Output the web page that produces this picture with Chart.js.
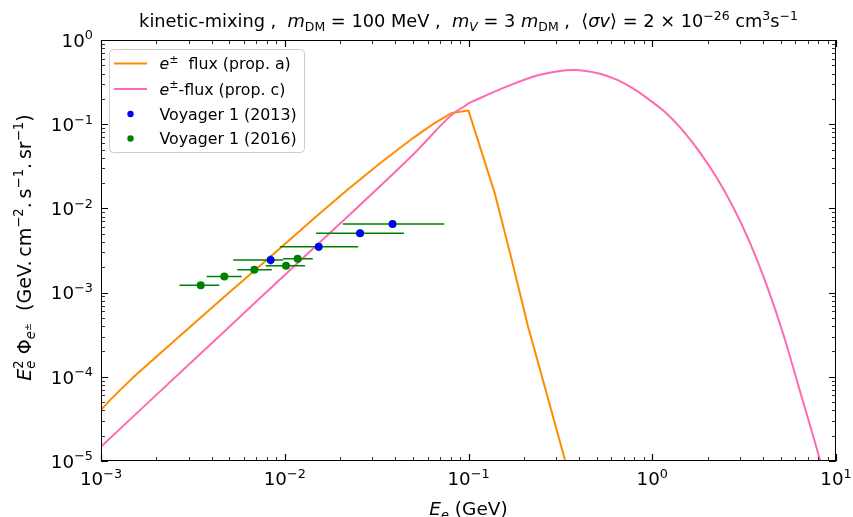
<!DOCTYPE html>
<html>
<head>
<meta charset="utf-8">
<script src="https://cdn.jsdelivr.net/npm/chart.js@4.4.0/dist/chart.umd.min.js"></script>
<style>
  body { margin: 0; background: #fff; }
</style>
</head>
<body>
<canvas id="myGraph" width="853" height="517"></canvas>
<script>
// e+- flux, propagation a (orange)
const energyA = [1.0e-3, 1.12e-3, 1.27e-3, 1.53e-3, 2.14e-3, 3.25e-3, 4.93e-3, 7.50e-3, 1.14e-2, 1.43e-2,
  2.17e-2, 3.30e-2, 5.01e-2, 6.44e-2, 8.11e-2, 0.1, 0.139, 0.172, 0.211, 0.266, 0.335, 0.355];
const fluxA = [4.04e-5, 5.29e-5, 6.95e-5, 1.03e-4, 1.97e-4, 4.40e-4, 9.82e-4, 2.17e-3, 4.83e-3, 7.46e-3,
  1.63e-2, 3.43e-2, 6.89e-2, 0.101, 0.136, 0.145, 1.51e-2, 2.44e-3, 3.94e-4, 6.37e-5, 1.03e-5, 6.3e-6];

// e+- flux, propagation c (pink)
const energyC = [1.0e-3, 2.0e-3, 5.0e-3, 1.0e-2, 2.0e-2, 5.0e-2, 8.3e-2, 0.097, 0.1, 0.104, 0.161, 0.245,
  0.372, 0.52, 0.65, 0.789, 0.973, 1.197, 1.476, 1.82, 2.244, 2.76, 3.40, 4.20, 5.17, 6.37, 8.18, 8.71];
const fluxC = [1.48e-5, 6.1e-5, 3.94e-4, 1.62e-3, 6.6e-3, 4.37e-2, 0.135, 0.168, 0.177, 0.184, 0.279, 0.386,
  0.441, 0.398, 0.333, 0.264, 0.192, 0.134, 8.27e-2, 4.60e-2, 2.31e-2, 1.03e-2, 3.92e-3, 1.22e-3, 3.18e-4,
  6.74e-5, 1.03e-5, 6.2e-6];

// Voyager 1 (2013), blue, with small flux errors
const voy13E = [8.38e-3, 1.53e-2, 2.57e-2, 3.86e-2];
const voy13F = [2.44e-3, 3.51e-3, 5.06e-3, 6.53e-3];
const voy13FLo = [2.15e-3, 3.15e-3, 4.60e-3, 5.95e-3];
const voy13FHi = [2.75e-3, 3.90e-3, 5.55e-3, 7.15e-3];

// Voyager 1 (2016), green, with energy bins
const voy16E = [3.49e-3, 4.69e-3, 6.83e-3, 8.38e-3, 1.016e-2, 1.175e-2, 1.53e-2, 2.57e-2, 3.86e-2];
const voy16F = [1.22e-3, 1.55e-3, 1.87e-3, 2.44e-3, 2.09e-3, 2.53e-3, 3.51e-3, 5.06e-3, 6.53e-3];
const voy16ELo = [2.67e-3, 3.76e-3, 5.52e-3, 5.24e-3, 7.87e-3, 9.8e-3, 9.4e-3, 1.48e-2, 2.07e-2];
const voy16EHi = [4.40e-3, 5.83e-3, 8.50e-3, 9.80e-3, 1.29e-2, 1.42e-2, 2.51e-2, 4.46e-2, 7.38e-2];

const xTicks = [1e-3, 1e-2, 1e-1, 1, 10];
const xTickExp = ['\u22123', '\u22122', '\u22121', '0', '1'];
const yTicks = [1e-5, 1e-4, 1e-3, 1e-2, 1e-1, 1];
const yTickExp = ['\u22125', '\u22124', '\u22123', '\u22122', '\u22121', '0'];

const FONT = '"DejaVu Sans", sans-serif';

function pts(xs, ys) {
  return xs.map((x, i) => ({ x: x, y: ys[i] }));
}

// text with italic / super / subscript pieces
function drawRich(ctx, parts, x, y, size, align) {
  const fontOf = p => (p.i ? 'oblique ' : '') + (size * (p.sz || (p.s ? 0.7 : 1))) + 'px ' + FONT;
  const items = [];
  let cx = 0, prevX = 0;
  for (const p of parts) {
    ctx.font = fontOf(p);
    const w = ctx.measureText(p.t).width;
    let dy = p.s === '^' ? -size * 0.4 : p.s === '_' ? size * 0.2 : 0;
    if (p.dy !== undefined) dy = size * p.dy;
    if (p.over) {
      items.push({ p: p, x: prevX, dy: dy });
      cx = Math.max(cx, prevX + w);
    } else {
      items.push({ p: p, x: cx, dy: dy });
      prevX = cx;
      cx += w;
    }
  }
  const x0 = align === 'center' ? x - cx / 2 : align === 'right' ? x - cx : x;
  ctx.textAlign = 'left';
  ctx.textBaseline = 'alphabetic';
  for (const it of items) {
    ctx.font = fontOf(it.p);
    ctx.fillText(it.p.t, x0 + it.x, y + it.dy);
  }
  return cx;
}

const errorBars = {
  id: 'errorBars',
  beforeDatasetDraw(chart, args) {
    const ds = chart.data.datasets[args.index];
    if (!ds.errLo) return;
    const ctx = chart.ctx, xs = chart.scales.x, ys = chart.scales.y;
    ctx.save();
    ctx.strokeStyle = ds.borderColor;
    ctx.lineWidth = 1.5;
    ctx.beginPath();
    ds.data.forEach((p, i) => {
      if (ds.errAxis === 'x') {
        const py = ys.getPixelForValue(p.y);
        ctx.moveTo(xs.getPixelForValue(ds.errLo[i]), py);
        ctx.lineTo(xs.getPixelForValue(ds.errHi[i]), py);
      } else {
        const px = xs.getPixelForValue(p.x);
        ctx.moveTo(px, ys.getPixelForValue(ds.errLo[i]));
        ctx.lineTo(px, ys.getPixelForValue(ds.errHi[i]));
      }
    });
    ctx.stroke();
    ctx.restore();
  }
};

const frame = {
  id: 'frame',
  afterDraw(chart) {
    const ctx = chart.ctx, a = chart.chartArea;
    const xs = chart.scales.x, ys = chart.scales.y;
    ctx.save();
    ctx.strokeStyle = '#000';
    ctx.lineWidth = 1;
    ctx.strokeRect(a.left + 0.5, a.top + 0.5, a.right - a.left - 1, a.bottom - a.top - 1);

    // inward ticks on all sides
    const tick = (len, lw, fn) => { ctx.lineWidth = lw; ctx.beginPath(); fn(len); ctx.stroke(); };
    const each = (lo, hi, cb) => {
      for (let d = lo; d < hi; d++) {
        cb(Math.pow(10, d), true);
        for (let m = 2; m <= 9; m++) cb(m * Math.pow(10, d), false);
      }
      cb(Math.pow(10, hi), true);
    };
    each(-3, 1, (v, major) => {
      const px = Math.round(xs.getPixelForValue(v)) + 0.5;
      tick(major ? 7 : 4, major ? 1.2 : 0.8, len => {
        ctx.moveTo(px, a.bottom); ctx.lineTo(px, a.bottom - len);
        ctx.moveTo(px, a.top); ctx.lineTo(px, a.top + len);
      });
    });
    each(-5, 0, (v, major) => {
      const py = Math.round(ys.getPixelForValue(v)) + 0.5;
      tick(major ? 7 : 4, major ? 1.2 : 0.8, len => {
        ctx.moveTo(a.left, py); ctx.lineTo(a.left + len, py);
        ctx.moveTo(a.right, py); ctx.lineTo(a.right - len, py);
      });
    });

    ctx.fillStyle = '#000';
    // tick labels
    xs.ticks.forEach((t, i) => {
      drawRich(ctx, [{ t: '10' }, { t: xTickExp[i], s: '^' }], xs.getPixelForValue(t.value), 485, 18.3, 'center');
    });
    ys.ticks.forEach((t, i) => {
      drawRich(ctx, [{ t: '10' }, { t: yTickExp[i], s: '^' }], 93, ys.getPixelForValue(t.value) + 6.7, 18.3, 'right');
    });

    // title
    drawRich(ctx, [
      { t: 'kinetic-mixing ,  ' }, { t: 'm', i: 1 }, { t: 'DM', s: '_' }, { t: ' = 100 MeV ,  ' },
      { t: 'm', i: 1 }, { t: 'V', i: 1, s: '_' }, { t: ' = 3 ' }, { t: 'm', i: 1 }, { t: 'DM', s: '_' },
      { t: ' ,  \u27e8' }, { t: '\u03c3v', i: 1 }, { t: '\u27e9 = 2 \u00d7 10' }, { t: '\u221226', s: '^' },
      { t: ' cm' }, { t: '3', s: '^' }, { t: 's' }, { t: '\u22121', s: '^' }
    ], (a.left + a.right) / 2, 27, 17.8, 'center');

    // axis titles
    drawRich(ctx, [{ t: 'E', i: 1 }, { t: 'e', i: 1, s: '_' }, { t: ' (GeV)' }], (a.left + a.right) / 2, 515, 18.5, 'center');
    ctx.save();
    ctx.translate(31, (a.top + a.bottom) / 2 - 3);
    ctx.rotate(-Math.PI / 2);
    drawRich(ctx, [
      { t: 'E', i: 1 }, { t: 'e', i: 1, s: '_' }, { t: '2', s: '^', over: 1 }, { t: ' \u03a6' },
      { t: 'e', i: 1, s: '_' }, { t: '\u00b1', sz: 0.5, dy: 0.02 }, { t: '  (GeV.\u2009cm' }, { t: '\u22122', s: '^' },
      { t: '.\u2009s' }, { t: '\u22121', s: '^' }, { t: '.\u2009sr' }, { t: '\u22121', s: '^' }, { t: ')' }
    ], 0, 0, 19, 'center');
    ctx.restore();

    // legend
    const lx = 109, ly = 49, lw = 195, lh = 103;
    ctx.beginPath();
    ctx.roundRect(lx + 0.5, ly + 0.5, lw, lh, 4);
    ctx.fillStyle = 'rgba(255,255,255,0.8)';
    ctx.fill();
    ctx.strokeStyle = '#cccccc';
    ctx.lineWidth = 1;
    ctx.stroke();
    const rows = [
      { ds: 3, parts: [{ t: 'e', i: 1 }, { t: '\u00b1', s: '^' }, { t: '  flux (prop. a)' }] },
      { ds: 2, parts: [{ t: 'e', i: 1 }, { t: '\u00b1', s: '^' }, { t: '-flux (prop. c)' }] },
      { ds: 0, parts: [{ t: chart.data.datasets[0].label }] },
      { ds: 1, parts: [{ t: chart.data.datasets[1].label }] }
    ];
    const rowY = [63.5, 89, 114, 138.5];
    rows.forEach((r, i) => {
      const ds = chart.data.datasets[r.ds];
      const y = rowY[i];
      if (ds.showLine) {
        ctx.strokeStyle = ds.borderColor;
        ctx.lineWidth = 2;
        ctx.beginPath();
        ctx.moveTo(114, y); ctx.lineTo(147, y);
        ctx.stroke();
      } else {
        ctx.fillStyle = ds.backgroundColor;
        ctx.beginPath();
        ctx.arc(130.5, y, 3.2, 0, Math.PI * 2);
        ctx.fill();
      }
      ctx.fillStyle = '#000';
      drawRich(ctx, r.parts, 159.5, y + 5.5, 15.8, 'left');
    });
    ctx.restore();
  }
};

const graph = document.getElementById('myGraph');

new Chart(graph, {
  type: 'scatter',
  data: {
    datasets: [
      {
        label: 'Voyager 1 (2013)',
        data: pts(voy13E, voy13F),
        errAxis: 'y', errLo: voy13FLo, errHi: voy13FHi,
        backgroundColor: 'blue', borderColor: 'blue',
        pointRadius: 3.8, pointBorderWidth: 0,
        order: 0
      },
      {
        label: 'Voyager 1 (2016)',
        data: pts(voy16E, voy16F),
        errAxis: 'x', errLo: voy16ELo, errHi: voy16EHi,
        backgroundColor: 'green', borderColor: 'green',
        pointRadius: 4, pointBorderWidth: 0,
        order: 1
      },
      {
        label: 'e\u00b1-flux (prop. c)',
        data: pts(energyC, fluxC),
        showLine: true, borderColor: 'hotpink', borderWidth: 2,
        pointRadius: 0, cubicInterpolationMode: 'monotone',
        order: 2
      },
      {
        label: 'e\u00b1 flux (prop. a)',
        data: pts(energyA, fluxA),
        showLine: true, borderColor: 'darkorange', borderWidth: 2,
        pointRadius: 0, tension: 0,
        order: 3
      }
    ]
  },
  options: {
    responsive: false,
    animation: false,
    devicePixelRatio: 1,
    layout: { padding: { top: 40, right: 17, left: 0, bottom: 0 } },
    plugins: {
      legend: { display: false },
      tooltip: { enabled: false },
      title: { display: false }
    },
    scales: {
      x: {
        type: 'logarithmic', min: 1e-3, max: 10,
        afterBuildTicks: s => { s.ticks = xTicks.map(v => ({ value: v })); },
        afterFit: s => { s.height = 56; },
        grid: { display: false },
        border: { display: false },
        ticks: { display: false }
      },
      y: {
        type: 'logarithmic', min: 1e-5, max: 1,
        afterBuildTicks: s => { s.ticks = yTicks.map(v => ({ value: v })); },
        afterFit: s => { s.width = 101; },
        grid: { display: false },
        border: { display: false },
        ticks: { display: false }
      }
    }
  },
  plugins: [errorBars, frame]
});
</script>
</body>
</html>
